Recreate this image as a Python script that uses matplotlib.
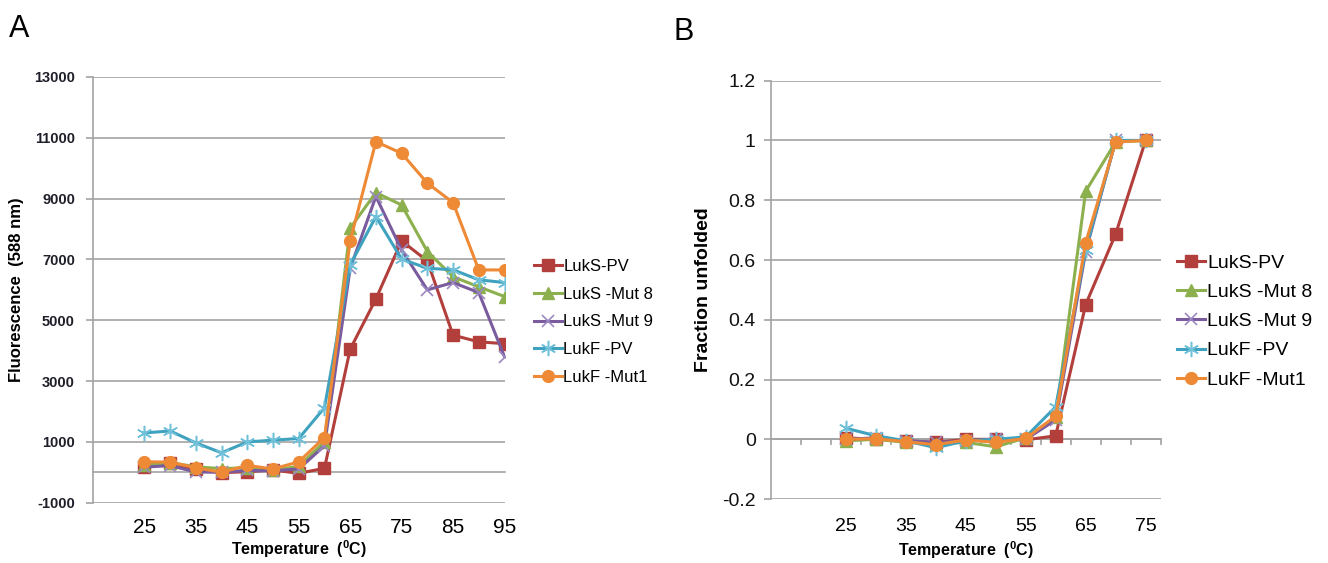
import numpy as np
import matplotlib
matplotlib.use("Agg")
import matplotlib.pyplot as plt

plt.rcParams['font.family'] = ['Liberation Sans', 'DejaVu Sans']
plt.rcParams['mathtext.fontset'] = 'custom'
plt.rcParams['mathtext.rm'] = 'Liberation Sans:bold'
plt.rcParams['mathtext.bf'] = 'Liberation Sans:bold'
plt.rcParams['mathtext.it'] = 'Liberation Sans:bold'
plt.rcParams['axes.unicode_minus'] = False

# ---- data: panel A, fluorescence vs temperature ----
temps_a = [25, 30, 35, 40, 45, 50, 55, 60, 65, 70, 75, 80, 85, 90, 95]
luks_pv_a = [183, 294, 98, -13, 20, 75, -33, 131, 4050, 5700, 7610, 6950, 4510, 4290, 4230]
luks_mut8_a = [250, 320, 180, 120, 150, 60, 200, 1000, 8030, 9200, 8790, 7260, 6430, 6100, 5780]
luks_mut9_a = [170, 220, 10, 0, 60, 50, 110, 870, 6710, 9070, 7310, 6000, 6240, 5910, 3800]
lukf_pv_a = [1294, 1360, 967, 641, 1000, 1056, 1111, 2124, 6820, 8410, 7010, 6710, 6660, 6330, 6240]
lukf_mut1_a = [346, 335, 150, 0, 229, 108, 346, 1144, 7610, 10875, 10490, 9510, 8870, 6655, 6655]

# ---- data: panel B, fraction unfolded ----
temps_b = [25, 30, 35, 40, 45, 50, 55, 60, 65, 70, 75]
luks_pv_b = [0.005, 0.0, -0.005, -0.01, 0.0, 0.0, -0.002, 0.012, 0.451, 0.687, 1.0]
luks_mut8_b = [-0.005, 0.0, -0.01, -0.015, -0.01, -0.025, 0.005, 0.074, 0.83, 0.995, 1.0]
luks_mut9_b = [0.0, 0.005, -0.005, -0.01, -0.005, 0.0, 0.0, 0.065, 0.628, 1.0, 1.0]
lukf_pv_b = [0.037, 0.012, -0.005, -0.028, -0.005, 0.0, 0.008, 0.109, 0.635, 1.0, 1.0]
lukf_mut1_b = [0.0, 0.002, -0.008, -0.018, -0.002, -0.01, 0.003, 0.078, 0.658, 0.995, 1.0]

labels = ["LukS-PV", "LukS -Mut 8", "LukS -Mut 9", "LukF -PV", "LukF -Mut1"]
colors = ['#B23F3B', '#8DB04E', '#7A5C9E', '#3FA2BF', '#EE8A36']
mcolors = ['#B23F3B', '#8DB04E', '#9C88C0', '#6FC0D8', '#EE8A36']
markers = ['s', '^', 'x', (6, 2, 0), 'o']
msizes = [8.5, 8.5, 8, 11, 8.5]
mews = [1, 1, 1.2, 1.1, 1]

grid_c = '#A3A3A3'
W, H = 1328, 563


def box(l, t, r, b):
    return [l / W, 1 - b / H, (r - l) / W, (b - t) / H]


def style(ax, zero_pos, ticks_on_zero):
    for s in ['top', 'right', 'bottom']:
        ax.spines[s].set_visible(False)
    ax.spines['left'].set_color(grid_c)
    ax.spines['left'].set_linewidth(1.2)
    ax.yaxis.grid(True, color=grid_c, lw=1.2)
    ax.set_axisbelow(True)
    ax.tick_params(axis='y', direction='out', length=5, width=1.2, color=grid_c)
    ax.tick_params(axis='x', length=0)
    # the category axis crossing at zero
    sec = ax.secondary_xaxis(zero_pos)
    sec.spines['bottom'].set_color(grid_c)
    sec.spines['bottom'].set_linewidth(1.2)
    if ticks_on_zero is not None:
        sec.set_xticks(ticks_on_zero)
        sec.tick_params(direction='out', length=4.5, width=1.2, color=grid_c, labelbottom=False)
    else:
        sec.set_xticks([])
    return sec


fig = plt.figure(figsize=(W / 100, H / 100), dpi=100)

series_a = [luks_pv_a, luks_mut8_a, luks_mut9_a, lukf_pv_a, lukf_mut1_a]
series_b = [luks_pv_b, luks_mut8_b, luks_mut9_b, lukf_pv_b, lukf_mut1_b]

# Panel A
ax1 = fig.add_axes(box(93, 77, 504.5, 502.7))
for i, ys in enumerate(series_a):
    ax1.plot(temps_a, ys, color=colors[i], lw=2.2, marker=markers[i], ms=msizes[i],
             mfc=mcolors[i], mec=mcolors[i], mew=mews[i], label=labels[i], zorder=3 + i)
ax1.set_xlim(15, 95)
ax1.set_ylim(-1000, 13000)
ax1.set_yticks(np.arange(-1000, 13001, 2000))
ax1.set_xticks(np.arange(25, 96, 10))
style(ax1, 1000 / 14000, None)
ax1.tick_params(axis='y', labelsize=10.5, pad=8, labelcolor='#1F1F2A')
for t in ax1.get_yticklabels():
    t.set_fontweight('bold')
ax1.tick_params(axis='x', labelsize=15, pad=11)
ax1.set_xlabel("Temperature  ($^{0}$C)", fontsize=11.5, fontweight='bold', labelpad=1)
ax1.set_ylabel("Fluorescence  (588 nm)", fontsize=12, fontweight='bold', labelpad=7)
ax1.legend(loc='upper left', bbox_to_anchor=(534 / W, 1 - 259 / H), bbox_transform=fig.transFigure,
           frameon=False, fontsize=12, handlelength=1.65, handletextpad=0.1, labelspacing=0.76,
           borderpad=0, borderaxespad=0, numpoints=1)

# Panel B
ax2 = fig.add_axes(box(771, 80.7, 1160.6, 499.1))
for i, ys in enumerate(series_b):
    ax2.plot(temps_b, ys, color=colors[i], lw=2.2, marker=markers[i], ms=msizes[i],
             mfc=mcolors[i], mec=mcolors[i], mew=mews[i], label=labels[i], zorder=3 + i)
ax2.set_xlim(12.5, 77.5)
ax2.set_ylim(-0.2, 1.2)
ax2.set_yticks(np.arange(-0.2, 1.21, 0.2))
ax2.set_yticklabels(['-0.2', '0', '0.2', '0.4', '0.6', '0.8', '1', '1.2'])
ax2.set_xticks(np.arange(25, 76, 10))
style(ax2, 0.2 / 1.4, np.arange(17.5, 78, 5))
ax2.tick_params(axis='y', labelsize=14, pad=6, labelcolor='#111111')
ax2.tick_params(axis='x', labelsize=14, pad=13.5)
ax2.set_xlabel("Temperature  ($^{0}$C)", fontsize=11.5, fontweight='bold', labelpad=3)
ax2.set_ylabel("Fraction unfolded", fontsize=14, fontweight='bold', labelpad=7)
ax2.legend(loc='upper left', bbox_to_anchor=(1177 / W, 1 - 254 / H), bbox_transform=fig.transFigure,
           frameon=False, fontsize=14, handlelength=1.45, handletextpad=0.1, labelspacing=0.6,
           borderpad=0, borderaxespad=0, numpoints=1)

fig.text(9 / W, 1 - 37 / H, "A", fontsize=22, va='baseline')
fig.text(673 / W, 1 - 40 / H, "B", fontsize=22, va='baseline')

fig.savefig("out.png", dpi=100, facecolor='white')
